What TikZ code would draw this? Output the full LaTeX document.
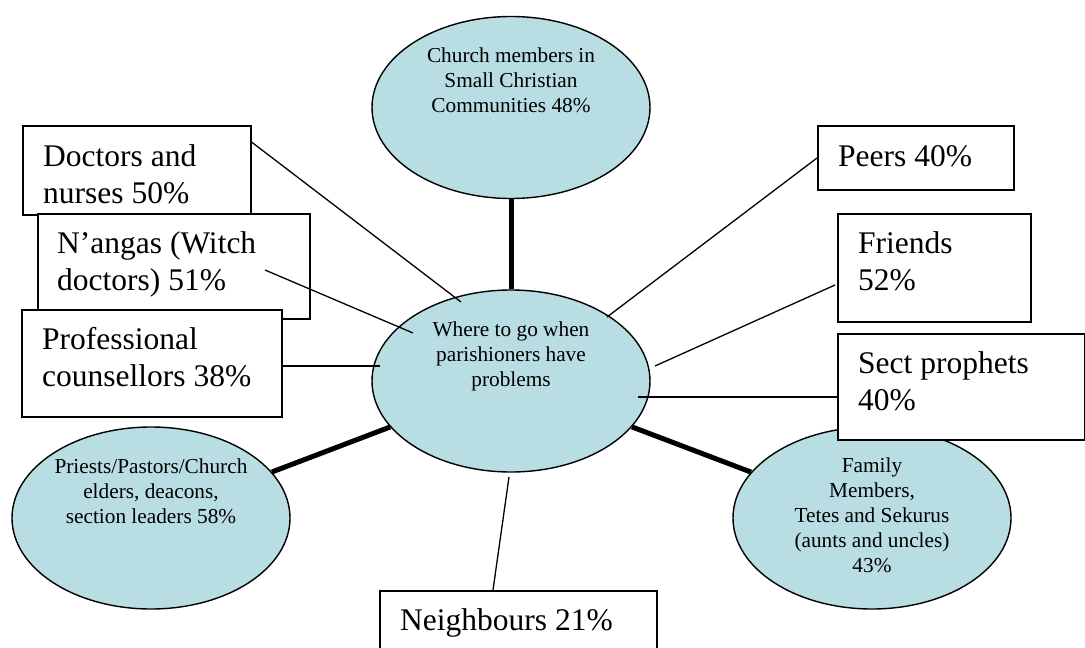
\documentclass[tikz,border=0pt]{standalone}
\usepackage{fontspec}
\setmainfont{Liberation Serif}
\usetikzlibrary{shapes.geometric,calc}
\definecolor{efill}{RGB}{184,222,227}
\begin{document}
\begin{tikzpicture}[x=1pt,y=-1pt,
  bubble/.style={ellipse,draw=black,line width=1.4pt,fill=efill,minimum width=278pt,minimum height=182pt,inner sep=0pt},
  btext/.style={align=center,inner sep=0pt,anchor=base,font=\fontsize{21.3}{25}\selectfont},
  box/.style={rectangle,draw=black,line width=1.5pt,fill=white,inner sep=0pt,anchor=north west},
  boxtext/.style={align=left,inner sep=0pt,anchor=base west,font=\fontsize{31.5}{37}\selectfont},
  thinlink/.style={line width=1.3pt},
  thicklink/.style={line width=5pt}]
\useasboundingbox (0,0) rectangle (1085,648);
% ellipses
\node[bubble] (top) at (511,107.5) {};
\node[bubble] (ctr) at (511,381) {};
\node[bubble] (bl) at (151,518) {};
\node[bubble] (br) at (872,518) {};
\draw[thicklink] (top) -- (ctr);
\draw[thicklink] (ctr) -- (bl);
\draw[thicklink] (ctr) -- (br);
% base anchor = baseline of the last line
\node[btext] (topT) at ($(top.north)+(0,97)$) {Church members in\\Small Christian\\Communities 48\%};
\node[btext] (ctrT) at ($(ctr.north)+(0,97)$) {Where to go when\\parishioners have\\problems};
\node[btext] (blT) at ($(bl.north)+(0,97)$) {Priests/Pastors/Church\\elders, deacons,\\section leaders 58\%};
\node[btext] (brT) at ($(br.north)+(0,146)$) {Family\\Members,\\Tetes and Sekurus\\(aunts and uncles)\\43\%};
% boxes
\node[box,minimum width=228pt,minimum height=89pt] (doc) at (22,125) {};
\node[box,minimum width=272pt,minimum height=105pt] (nang) at (37,213) {};
\node[box,minimum width=260pt,minimum height=107pt] (prof) at (21,309) {};
\node[box,minimum width=196pt,minimum height=64pt] (peers) at (817,125) {};
\node[box,minimum width=193pt,minimum height=108pt] (friends) at (837,213) {};
\node[box,minimum width=247pt,minimum height=106pt] (sect) at (837,333) {};
\node[box,minimum width=277pt,minimum height=90pt] (neigh) at (379,590) {};
\node[boxtext] (docT) at ($(doc.north west)+(21,78)$) {Doctors and\\nurses 50\%};
\node[boxtext] (nangT) at ($(nang.north west)+(20,77)$) {N’angas (Witch\\doctors) 51\%};
\node[boxtext] (profT) at ($(prof.north west)+(21,77)$) {Professional\\counsellors 38\%};
\node[boxtext] (peersT) at ($(peers.north west)+(21,41)$) {Peers 40\%};
\node[boxtext] (friendsT) at ($(friends.north west)+(21,77)$) {Friends\\52\%};
\node[boxtext] (sectT) at ($(sect.north west)+(21,77)$) {Sect prophets\\40\%};
\node[boxtext] (neighT) at ($(neigh.north west)+(21,40)$) {Neighbours 21\%};
% thin connectors
\draw[thinlink] ($(doc.north east)+(0,17)$) -- ($(ctr.center)+(-50,-79)$);
\draw[thinlink] ($(nang.north west)+(228,57)$) -- ($(ctr.center)+(-98,-48)$);
\draw[thinlink] ($(prof.north east)+(0,57)$) -- ($(ctr.center)+(-131,-15)$);
\draw[thinlink] ($(peers.north west)+(0,33)$) -- ($(ctr.center)+(96,-64)$);
\draw[thinlink] ($(friends.north west)+(-2,72)$) -- ($(ctr.center)+(144,-15)$);
\draw[thinlink] ($(sect.north west)+(0,64)$) -- ($(ctr.center)+(127,16)$);
\draw[thinlink] ($(neigh.north west)+(114,0)$) -- ($(ctr.center)+(-2,96)$);
\end{tikzpicture}
\end{document}
